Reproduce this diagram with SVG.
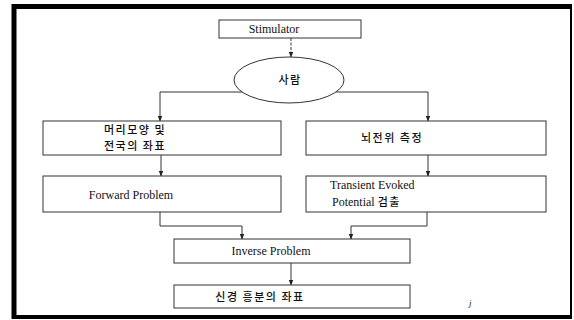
<svg xmlns="http://www.w3.org/2000/svg" width="574" height="320" viewBox="0 0 574 320">
<defs>
<marker id="ah" viewBox="0 0 10 10" refX="9" refY="5" markerWidth="6" markerHeight="6" orient="auto" markerUnits="userSpaceOnUse">
<path d="M0,1 L10,5 L0,9 Z" fill="#222"/>
</marker>
</defs>
<style>
.box{fill:#fff;stroke:#333;stroke-width:1}
.en{font-family:"Liberation Serif","Times New Roman",serif;font-size:12px;fill:#111}
.ko{font-family:"Noto Sans CJK KR","Noto Sans",sans-serif;font-size:11px;font-weight:500;fill:#111;letter-spacing:1.5px}
.mix{font-family:"Liberation Serif","Noto Sans CJK KR",serif;font-size:12px;fill:#111}
.ln{fill:none;stroke:#333;stroke-width:1}
.fr{stroke:#000;fill:none}
</style>
<rect width="574" height="320" fill="#fff"/>
<g id="frame">
<line class="fr" x1="12" y1="6.5" x2="572" y2="6.5" stroke-width="5"/>
<line class="fr" x1="14" y1="4" x2="14" y2="319" stroke-width="5"/>
<line class="fr" x1="12" y1="317" x2="572" y2="317" stroke-width="4"/>
<line class="fr" x1="571" y1="6" x2="571" y2="319" stroke-width="2"/>
</g>
<g id="connectors">
<line class="ln" x1="291" y1="38" x2="291" y2="57" stroke-dasharray="3,1.5" marker-end="url(#ah)"/>
<polyline class="ln" points="244,92 160,92 160,121" marker-end="url(#ah)"/>
<polyline class="ln" points="334,92 428,92 428,121" marker-end="url(#ah)"/>
<line class="ln" x1="161" y1="155" x2="161" y2="176" marker-end="url(#ah)"/>
<line class="ln" x1="428" y1="155" x2="428" y2="176" marker-end="url(#ah)"/>
<polyline class="ln" points="160,212 160,226 242,226 242,239" marker-end="url(#ah)"/>
<polyline class="ln" points="427,212 427,226 351,226 351,239" marker-end="url(#ah)"/>
<line class="ln" x1="291" y1="263" x2="291" y2="285" marker-end="url(#ah)"/>
</g>
<g id="stimulator">
<rect class="box" x="219" y="20" width="142" height="18"/>
<text class="en" x="274" y="33" text-anchor="middle">Stimulator</text>
</g>
<g id="person">
<ellipse class="box" cx="289" cy="80" rx="55" ry="23"/>
<text class="ko" x="290" y="84" text-anchor="middle">사람</text>
</g>
<g id="head-shape">
<rect class="box" x="43" y="121" width="238" height="34"/>
<text class="ko" x="135" y="134" text-anchor="middle">머리모양 및</text>
<text class="ko" x="135" y="150" text-anchor="middle">전국의 좌표</text>
</g>
<g id="eeg">
<rect class="box" x="306" y="121" width="240" height="34"/>
<text class="ko" x="392" y="142" text-anchor="middle">뇌전위 측정</text>
</g>
<g id="forward">
<rect class="box" x="43" y="176" width="238" height="36"/>
<text class="en" x="131" y="199" text-anchor="middle">Forward Problem</text>
</g>
<g id="transient">
<rect class="box" x="306" y="176" width="240" height="36"/>
<text class="en" x="330" y="189">Transient Evoked</text>
<text class="mix" x="332" y="206">Potential <tspan class="ko">검출</tspan></text>
</g>
<g id="inverse">
<rect class="box" x="174" y="239" width="236" height="24"/>
<text class="en" x="271" y="255" text-anchor="middle">Inverse Problem</text>
</g>
<g id="result">
<rect class="box" x="174" y="285" width="236" height="23"/>
<text class="ko" x="260" y="301" text-anchor="middle">신경 흥분의 좌표</text>
</g>
<text class="en" x="469" y="306" style="font-size:9px;font-style:italic">j</text>
</svg>
